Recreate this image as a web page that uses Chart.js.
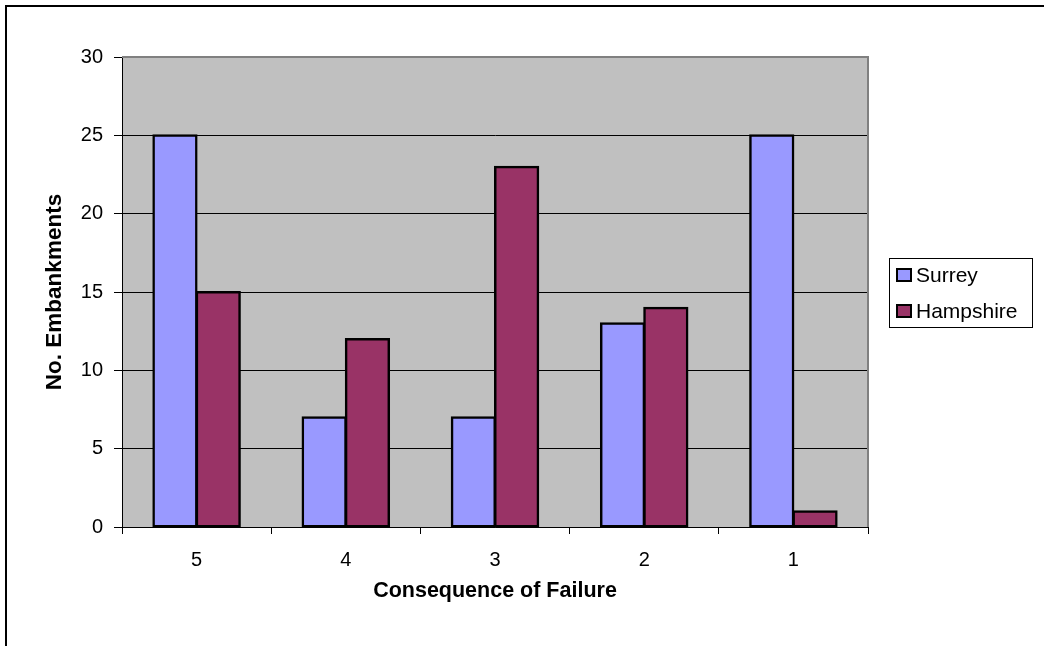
<!DOCTYPE html>
<html>
<head>
<meta charset="utf-8">
<script src="https://cdn.jsdelivr.net/npm/chart.js@4/dist/chart.umd.min.js"></script>
<style>
	html, body { margin: 0; padding: 0; background: #fff; }
	#wrap { width: 1044px; height: 646px; }
</style>
</head>
<body>
<div id="wrap"><canvas id="barChart" width="1044" height="646"></canvas></div>
<script>
// Chart values
const categories = ["5", "4", "3", "2", "1"];
const surreyValues = [25, 7, 7, 13, 25];
const hampshireValues = [15, 12, 23, 14, 1];
const seriesNames = ["Surrey", "Hampshire"];
const seriesColors = ["#9999FF", "#993366"];
const yTicks = [0, 5, 10, 15, 20, 25, 30];

const FONT = "'Liberation Sans', Arial, sans-serif";

// Grey plot background, outer frame and legend box
const framePlugin = {
	id: 'frame',
	beforeDraw(chart) {
		const { ctx, chartArea: a } = chart;
		ctx.save();
		ctx.fillStyle = "#C0C0C0";
		ctx.fillRect(a.left, a.top, a.right - a.left, a.bottom - a.top);
		ctx.restore();
	},
	afterDraw(chart) {
		const { ctx, chartArea: a } = chart;
		ctx.save();
		// plot area top/right edge
		ctx.strokeStyle = "#808080";
		ctx.lineWidth = 2;
		ctx.beginPath();
		ctx.moveTo(a.left, a.top);
		ctx.lineTo(a.right, a.top);
		ctx.lineTo(a.right, a.bottom);
		ctx.stroke();

		// outer border (top + left)
		ctx.strokeStyle = "#000";
		ctx.lineWidth = 2;
		ctx.beginPath();
		ctx.moveTo(6, 646);
		ctx.lineTo(6, 6);
		ctx.lineTo(1044, 6);
		ctx.stroke();

		// legend
		ctx.lineWidth = 1;
		ctx.strokeRect(889.5, 258.5, 143, 69);
		ctx.font = "21px " + FONT;
		ctx.textBaseline = "middle";
		ctx.textAlign = "left";
		chart.data.datasets.forEach((ds, i) => {
			const y = 275 + i * 36;
			ctx.fillStyle = ds.backgroundColor;
			ctx.fillRect(897, y - 6, 14, 12);
			ctx.lineWidth = 2;
			ctx.strokeStyle = "#000";
			ctx.strokeRect(897, y - 6, 14, 12);
			ctx.fillStyle = "#000";
			ctx.fillText(ds.label, 916, y + 1);
		});
		ctx.restore();
	}
};

const barCtx = document.getElementById("barChart").getContext("2d");

new Chart(barCtx, {
	type: "bar",
	data: {
		labels: categories,
		datasets: [
			{
				label: seriesNames[0],
				data: surreyValues,
				backgroundColor: seriesColors[0],
				borderColor: "#000",
				borderWidth: 2.5,
				borderSkipped: false
			},
			{
				label: seriesNames[1],
				data: hampshireValues,
				backgroundColor: seriesColors[1],
				borderColor: "#000",
				borderWidth: 2.5,
				borderSkipped: false
			}
		]
	},
	options: {
		responsive: false,
		animation: false,
		events: [],
		layout: { padding: { top: 57, right: 176, bottom: 0, left: 0 } },
		datasets: {
			bar: { categoryPercentage: 0.58, barPercentage: 1.0, inflateAmount: 1 }
		},
		plugins: {
			legend: { display: false },
			tooltip: { enabled: false }
		},
		scales: {
			x: {
				offset: true,
				afterFit: (scale) => { scale.height = 119; },
				grid: {
					offset: true,
					drawOnChartArea: false,
					tickLength: 7,
					tickColor: "#000",
					tickWidth: 1
				},
				border: { color: "#000", width: 1 },
				ticks: {
					color: "#000",
					padding: 14,
					font: { family: FONT, size: 20 }
				},
				title: {
					display: true,
					text: "Consequence of Failure",
					color: "#000",
					font: { family: FONT, size: 21.5, weight: "bold" },
					padding: { top: 0, bottom: 42 }
				}
			},
			y: {
				min: 0,
				max: 30,
				afterFit: (scale) => { scale.width = 122; },
				afterBuildTicks: (scale) => { scale.ticks = yTicks.map(v => ({ value: v })); },
				grid: {
					color: "#000",
					lineWidth: 1,
					tickLength: 8,
					tickColor: "#000"
				},
				border: { color: "#000", width: 1 },
				ticks: {
					color: "#000",
					padding: 11,
					font: { family: FONT, size: 20 }
				},
				title: {
					display: true,
					text: "No. Embankments",
					color: "#000",
					font: { family: FONT, size: 22.5, weight: "bold" },
					padding: { top: 41, bottom: 0 }
				}
			}
		}
	},
	plugins: [framePlugin]
});
</script>
</body>
</html>
